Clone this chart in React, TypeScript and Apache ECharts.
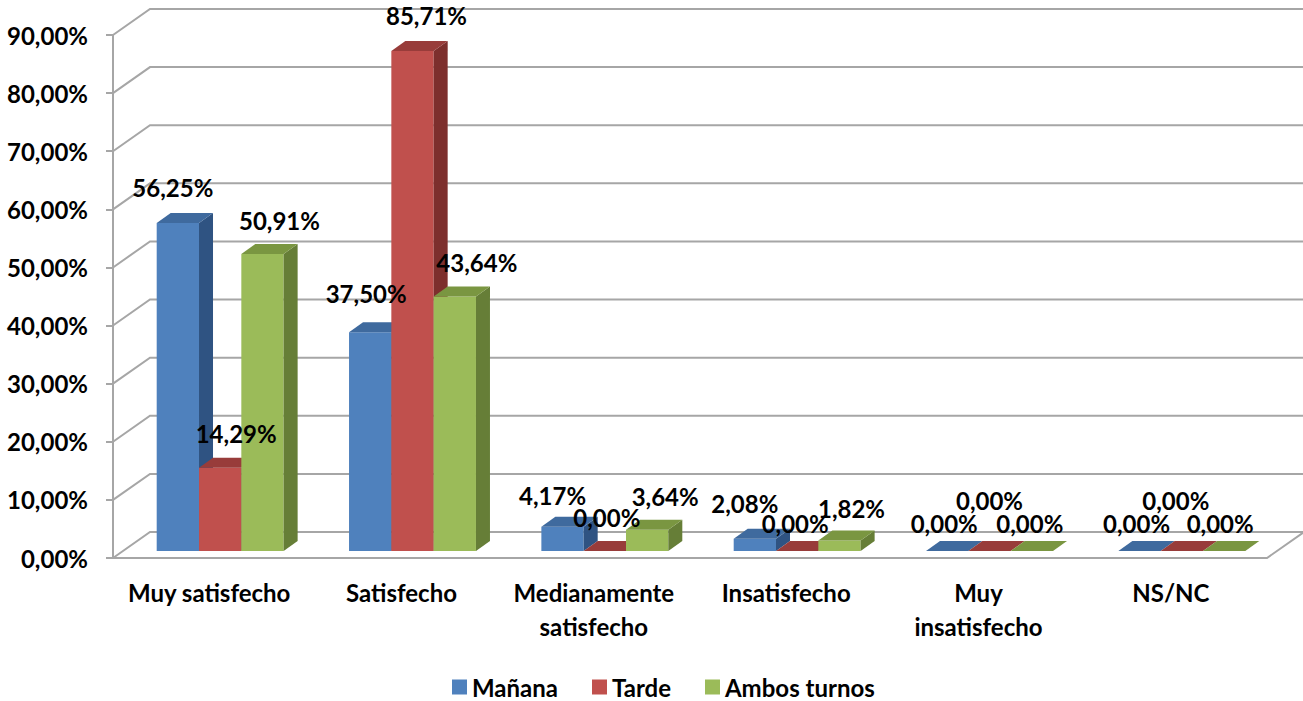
import React, { useEffect, useRef } from 'react';
import * as echarts from 'echarts';

// ---- data ----
const categories = ['Muy satisfecho', 'Satisfecho', 'Medianamente\nsatisfecho', 'Insatisfecho', 'Muy\ninsatisfecho', 'NS/NC'];
const seriesNames = ['Mañana', 'Tarde', 'Ambos turnos'];
const manana = [56.25, 37.5, 4.17, 2.08, 0, 0];
const tarde = [14.29, 85.71, 0, 0, 0, 0];
const ambos = [50.91, 43.64, 3.64, 1.82, 0, 0];
const yTicks = [0, 10, 20, 30, 40, 50, 60, 70, 80, 90];

// ---- label placement (offset from the top-centre of each bar's front face) ----
const labelShiftManana = [[-5, -35], [-4, -39], [-10, -31], [-10, -35], [-3, -28], [-3, -28]];
const labelShiftTarde = [[16, -34], [14, -36], [2, -34], [-2, -28], [0, -51], [-6, -51]];
const labelShiftAmbos = [[17, -34], [22, -34], [18, -33], [12, -32], [-2, -28], [-4, -28]];

// ---- style ----
const FONT = 'Lato, "Open Sans", sans-serif';
const FS = 24;
const faceColors = [
  { front: '#4F81BD', top: '#3F6A9E', side: '#2F5382' },
  { front: '#C0504D', top: '#983C3A', side: '#7D2F2D' },
  { front: '#9BBB59', top: '#7A9641', side: '#667E37' },
];
const GRID_LINE = '#a6a6a6';
const WALL_DX = 37;
const WALL_DY = -26;
const BAR_DX = 14;
const BAR_DY = -10;
const GROUP_RATIO = 0.66;

const fmt = (v: number) => v.toFixed(2).replace('.', ',') + '%';

export default function App() {
  const ref = useRef<HTMLDivElement>(null);

  useEffect(() => {
    if (!ref.current) return;
    const chart = echarts.init(ref.current, undefined, { renderer: 'svg' });
    const values = [manana, tarde, ambos];
    const shifts = [labelShiftManana, labelShiftTarde, labelShiftAmbos];

    const wallRender = (params: any, api: any) => {
      const cs = params.coordSys;
      const v = api.value(1);
      const y = api.coord([0, v])[1];
      const x0 = cs.x;
      const x1 = cs.x + cs.width;
      const style = { stroke: GRID_LINE, lineWidth: 2, fill: null };
      const children: any[] = [
        {
          type: 'polyline',
          shape: { points: [[x0, y], [x0 + WALL_DX, y + WALL_DY], [x1 + WALL_DX, y + WALL_DY]] },
          style,
        },
      ];
      if (v === 0) {
        children.push({
          type: 'polyline',
          shape: { points: [[x0, y], [x1, y], [x1 + WALL_DX, y + WALL_DY]] },
          style,
        });
      }
      return { type: 'group', children };
    };

    const barRender = (sIdx: number) => (params: any, api: any) => {
      const cat = api.value(0);
      const val = api.value(1);
      const top = api.coord([cat, val]);
      const base = api.coord([cat, 0]);
      const band = api.size([1, 0])[0];
      const bw = (band * GROUP_RATIO) / 3;
      const x0 = top[0] - 1.5 * bw + sIdx * bw;
      const x1 = x0 + bw;
      const yt = top[1];
      const yb = base[1];
      const c = faceColors[sIdx];
      const children: any[] = [];
      if (yb - yt > 0.01) {
        children.push({
          type: 'rect',
          shape: { x: x0, y: yt, width: bw, height: yb - yt },
          style: { fill: c.front },
        });
        children.push({
          type: 'polygon',
          shape: { points: [[x1, yt], [x1 + BAR_DX, yt + BAR_DY], [x1 + BAR_DX, yb + BAR_DY], [x1, yb]] },
          style: { fill: c.side },
        });
      }
      children.push({
        type: 'polygon',
        shape: { points: [[x0, yt], [x1, yt], [x1 + BAR_DX, yt + BAR_DY], [x0 + BAR_DX, yt + BAR_DY]] },
        style: { fill: c.top },
      });
      return { type: 'group', children };
    };

    const labelRender = (sIdx: number) => (params: any, api: any) => {
      const cat = api.value(0);
      const val = api.value(1);
      const top = api.coord([cat, val]);
      const band = api.size([1, 0])[0];
      const bw = (band * GROUP_RATIO) / 3;
      const cx = top[0] - 1.5 * bw + sIdx * bw + bw / 2;
      const sh = shifts[sIdx][params.dataIndex];
      return {
        type: 'text',
        x: cx + sh[0],
        y: top[1] + sh[1],
        style: {
          text: fmt(val),
          fill: '#000',
          fontSize: FS,
          fontWeight: 'bold',
          fontFamily: FONT,
          align: 'center',
          verticalAlign: 'middle',
        },
      };
    };

    const series: any[] = [
      {
        type: 'custom',
        name: 'walls',
        xAxisIndex: 0,
        yAxisIndex: 0,
        z: 1,
        silent: true,
        renderItem: wallRender,
        encode: { x: 0, y: 1 },
        data: yTicks.map((t) => [0, t]),
      },
    ];
    values.forEach((arr, s) => {
      series.push({
        type: 'custom',
        name: seriesNames[s],
        xAxisIndex: 1,
        yAxisIndex: 1,
        z: 2,
        itemStyle: { color: faceColors[s].front },
        renderItem: barRender(s),
        encode: { x: 0, y: 1 },
        data: arr.map((v, i) => [i, v]),
      });
    });
    values.forEach((arr, s) => {
      series.push({
        type: 'custom',
        name: seriesNames[s],
        xAxisIndex: 1,
        yAxisIndex: 1,
        z: 10,
        itemStyle: { color: faceColors[s].front },
        renderItem: labelRender(s),
        encode: { x: 0, y: 1 },
        data: arr.map((v, i) => [i, v]),
      });
    });

    chart.setOption({
      animation: false,
      backgroundColor: '#fff',
      grid: [
        { left: 113, right: 36, top: 35, bottom: 143 },
        { left: 124, right: 25, top: 26, bottom: 150 },
      ],
      xAxis: [
        {
          type: 'category',
          gridIndex: 0,
          data: categories,
          axisLine: { show: false },
          axisTick: { show: false },
          axisLabel: {
            interval: 0,
            margin: 17,
            color: '#000',
            fontSize: FS,
            fontWeight: 'bold',
            fontFamily: FONT,
            lineHeight: 34,
          },
        },
        {
          type: 'category',
          gridIndex: 1,
          data: categories,
          show: false,
        },
      ],
      yAxis: [
        {
          type: 'value',
          gridIndex: 0,
          min: 0,
          max: 90,
          interval: 10,
          axisLine: { show: true, lineStyle: { color: GRID_LINE, width: 2 } },
          axisTick: { show: true, length: 7, lineStyle: { color: GRID_LINE, width: 2 } },
          splitLine: { show: false },
          axisLabel: {
            margin: 25,
            color: '#000',
            fontSize: FS,
            fontWeight: 'bold',
            fontFamily: FONT,
            formatter: (v: number) => fmt(v),
          },
        },
        {
          type: 'value',
          gridIndex: 1,
          min: 0,
          max: 90,
          interval: 10,
          show: false,
        },
      ],
      legend: {
        data: seriesNames,
        left: 452,
        top: 675,
        padding: 0,
        icon: 'rect',
        itemWidth: 15,
        itemHeight: 15,
        itemGap: 34,
        textStyle: { color: '#000', fontSize: FS, fontWeight: 'bold', fontFamily: FONT, lineHeight: 24 },
      },
      series,
    });

    return () => chart.dispose();
  }, []);

  return (
    <div
      ref={ref}
      style={{ position: 'fixed', left: 0, top: 0, width: 1303, height: 701, background: '#fff' }}
    />
  );
}
